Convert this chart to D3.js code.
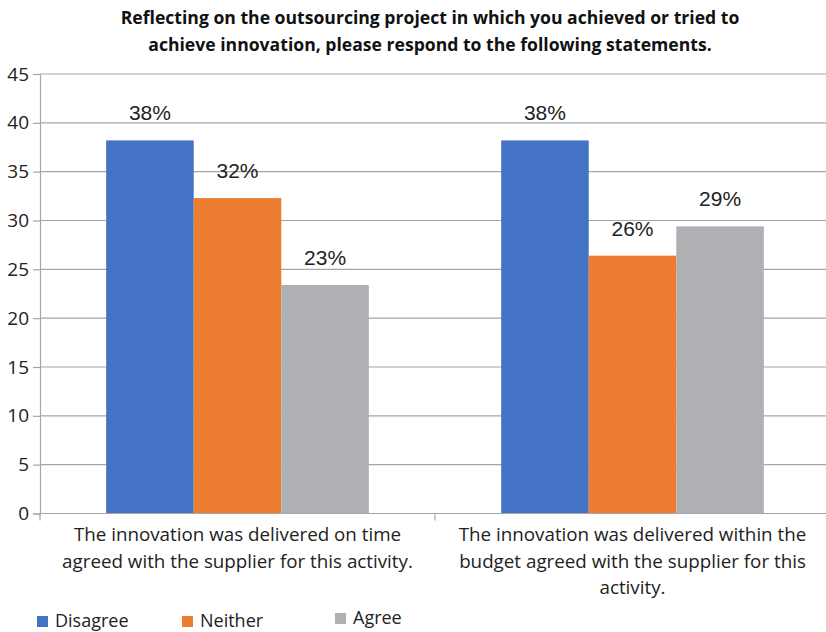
<!DOCTYPE html>
<html>
<head>
<meta charset="utf-8">
<script src="https://cdn.jsdelivr.net/npm/d3@7/dist/d3.min.js"></script>
<style>
  html, body { margin: 0; padding: 0; background: #fff; }
  svg { display: block; }
</style>
</head>
<body>
<svg id="chart" width="826" height="632"></svg>
<script>
// Survey responses (% of respondents) per statement
const categories = [
  ["The innovation was delivered on time", "agreed with the supplier for this activity."],
  ["The innovation was delivered within the", "budget agreed with the supplier for this", "activity."]
];
const seriesNames = ["Disagree", "Neither", "Agree"];
const disagree = [38.2, 38.2];
const neither  = [32.3, 26.4];
const agree    = [23.4, 29.4];
const yTicks = [0, 5, 10, 15, 20, 25, 30, 35, 40, 45];
const titleLines = [
  "Reflecting on the outsourcing project in which you achieved or tried to",
  "achieve innovation, please respond to the following statements."
];

const colors = ["#4472c4", "#ed7d31", "#afb0b3"];
const series = [disagree, neither, agree];

const svg = d3.select("#chart");
const labelFont = "'Open Sans', 'Noto Sans', sans-serif";

const x = d3.scaleBand().domain(d3.range(categories.length)).range([40, 830]).padding(0);
const y = d3.scaleLinear().domain([0, 45]).range([513.5, 74]);

// Bars within each category
const groupFrac = 0.665;
const inner = d3.scaleBand()
  .domain(d3.range(seriesNames.length))
  .range([0, x.bandwidth() * groupFrac]);
const groupOffset = x.bandwidth() * (1 - groupFrac) / 2;

// Horizontal gridlines
svg.append("g")
  .selectAll("line")
  .data(yTicks)
  .join("line")
  .attr("x1", 40).attr("x2", 826)
  .attr("y1", d => y(d)).attr("y2", d => y(d))
  .attr("stroke", "#a6a6a6").attr("stroke-width", 1.2);

// Y axis
const yAxis = svg.append("g")
  .attr("transform", "translate(40,0)")
  .call(d3.axisLeft(y).tickValues(yTicks).tickSize(7).tickPadding(4));
yAxis.select(".domain").attr("stroke", "#a6a6a6").attr("stroke-width", 1.2);
yAxis.selectAll(".tick line").attr("stroke", "#a6a6a6").attr("stroke-width", 1.2);
yAxis.selectAll(".tick text")
  .attr("font-family", labelFont).attr("font-size", 19).attr("fill", "#222");

// Bars
const bars = [];
categories.forEach((c, ci) => {
  series.forEach((s, si) => bars.push({ ci, si, v: s[ci] }));
});
svg.append("g")
  .selectAll("rect")
  .data(bars)
  .join("rect")
  .attr("x", d => x(d.ci) + groupOffset + inner(d.si))
  .attr("width", inner.bandwidth())
  .attr("y", d => y(d.v))
  .attr("height", d => y(0) - y(d.v))
  .attr("fill", d => colors[d.si]);

// Value labels
svg.append("g")
  .selectAll("text")
  .data(bars)
  .join("text")
  .attr("x", d => x(d.ci) + groupOffset + inner(d.si) + inner.bandwidth() / 2)
  .attr("y", d => y(d.v) - 20)
  .attr("text-anchor", "middle")
  .attr("font-family", "'Liberation Sans', Arial, sans-serif")
  .attr("font-size", 21)
  .attr("fill", "#222")
  .text(d => Math.round(d.v) + "%");

// X axis baseline with category separators
const xAxisG = svg.append("g");
xAxisG.append("line")
  .attr("x1", 40).attr("x2", 826)
  .attr("y1", y(0)).attr("y2", y(0))
  .attr("stroke", "#a6a6a6").attr("stroke-width", 1.2);
xAxisG.selectAll("line.sep")
  .data(d3.range(categories.length))
  .join("line")
  .attr("class", "sep")
  .attr("x1", d => x(d)).attr("x2", d => x(d))
  .attr("y1", y(0)).attr("y2", y(0) + 7)
  .attr("stroke", "#a6a6a6").attr("stroke-width", 1.2);

// Category labels
categories.forEach((lines, ci) => {
  const t = svg.append("text")
    .attr("x", x(ci) + x.bandwidth() / 2)
    .attr("y", 541)
    .attr("text-anchor", "middle")
    .attr("font-family", labelFont)
    .attr("font-size", 18.8)
    .attr("fill", "#222");
  lines.forEach((ln, i) => {
    t.append("tspan")
      .attr("x", x(ci) + x.bandwidth() / 2)
      .attr("dy", i === 0 ? 0 : 26.5)
      .text(ln);
  });
});

// Title
const title = svg.append("text")
  .attr("text-anchor", "middle")
  .attr("font-family", labelFont)
  .attr("font-weight", "bold")
  .attr("font-size", 17.6)
  .attr("fill", "#111");
titleLines.forEach((ln, i) => {
  title.append("tspan").attr("x", 430).attr("y", 24 + i * 27).text(ln);
});

// Legend
const legendX = [37, 182, 335];
const legendY = [616, 616, 613];
const legend = svg.append("g")
  .selectAll("g")
  .data(seriesNames)
  .join("g")
  .attr("transform", (d, i) => `translate(${legendX[i]},${legendY[i]})`);
legend.append("rect")
  .attr("width", 11).attr("height", 11)
  .attr("fill", (d, i) => colors[i]);
legend.append("text")
  .attr("x", 18).attr("y", 11)
  .attr("font-family", labelFont)
  .attr("font-size", 18)
  .attr("fill", "#222")
  .text(d => d);
</script>
</body>
</html>
